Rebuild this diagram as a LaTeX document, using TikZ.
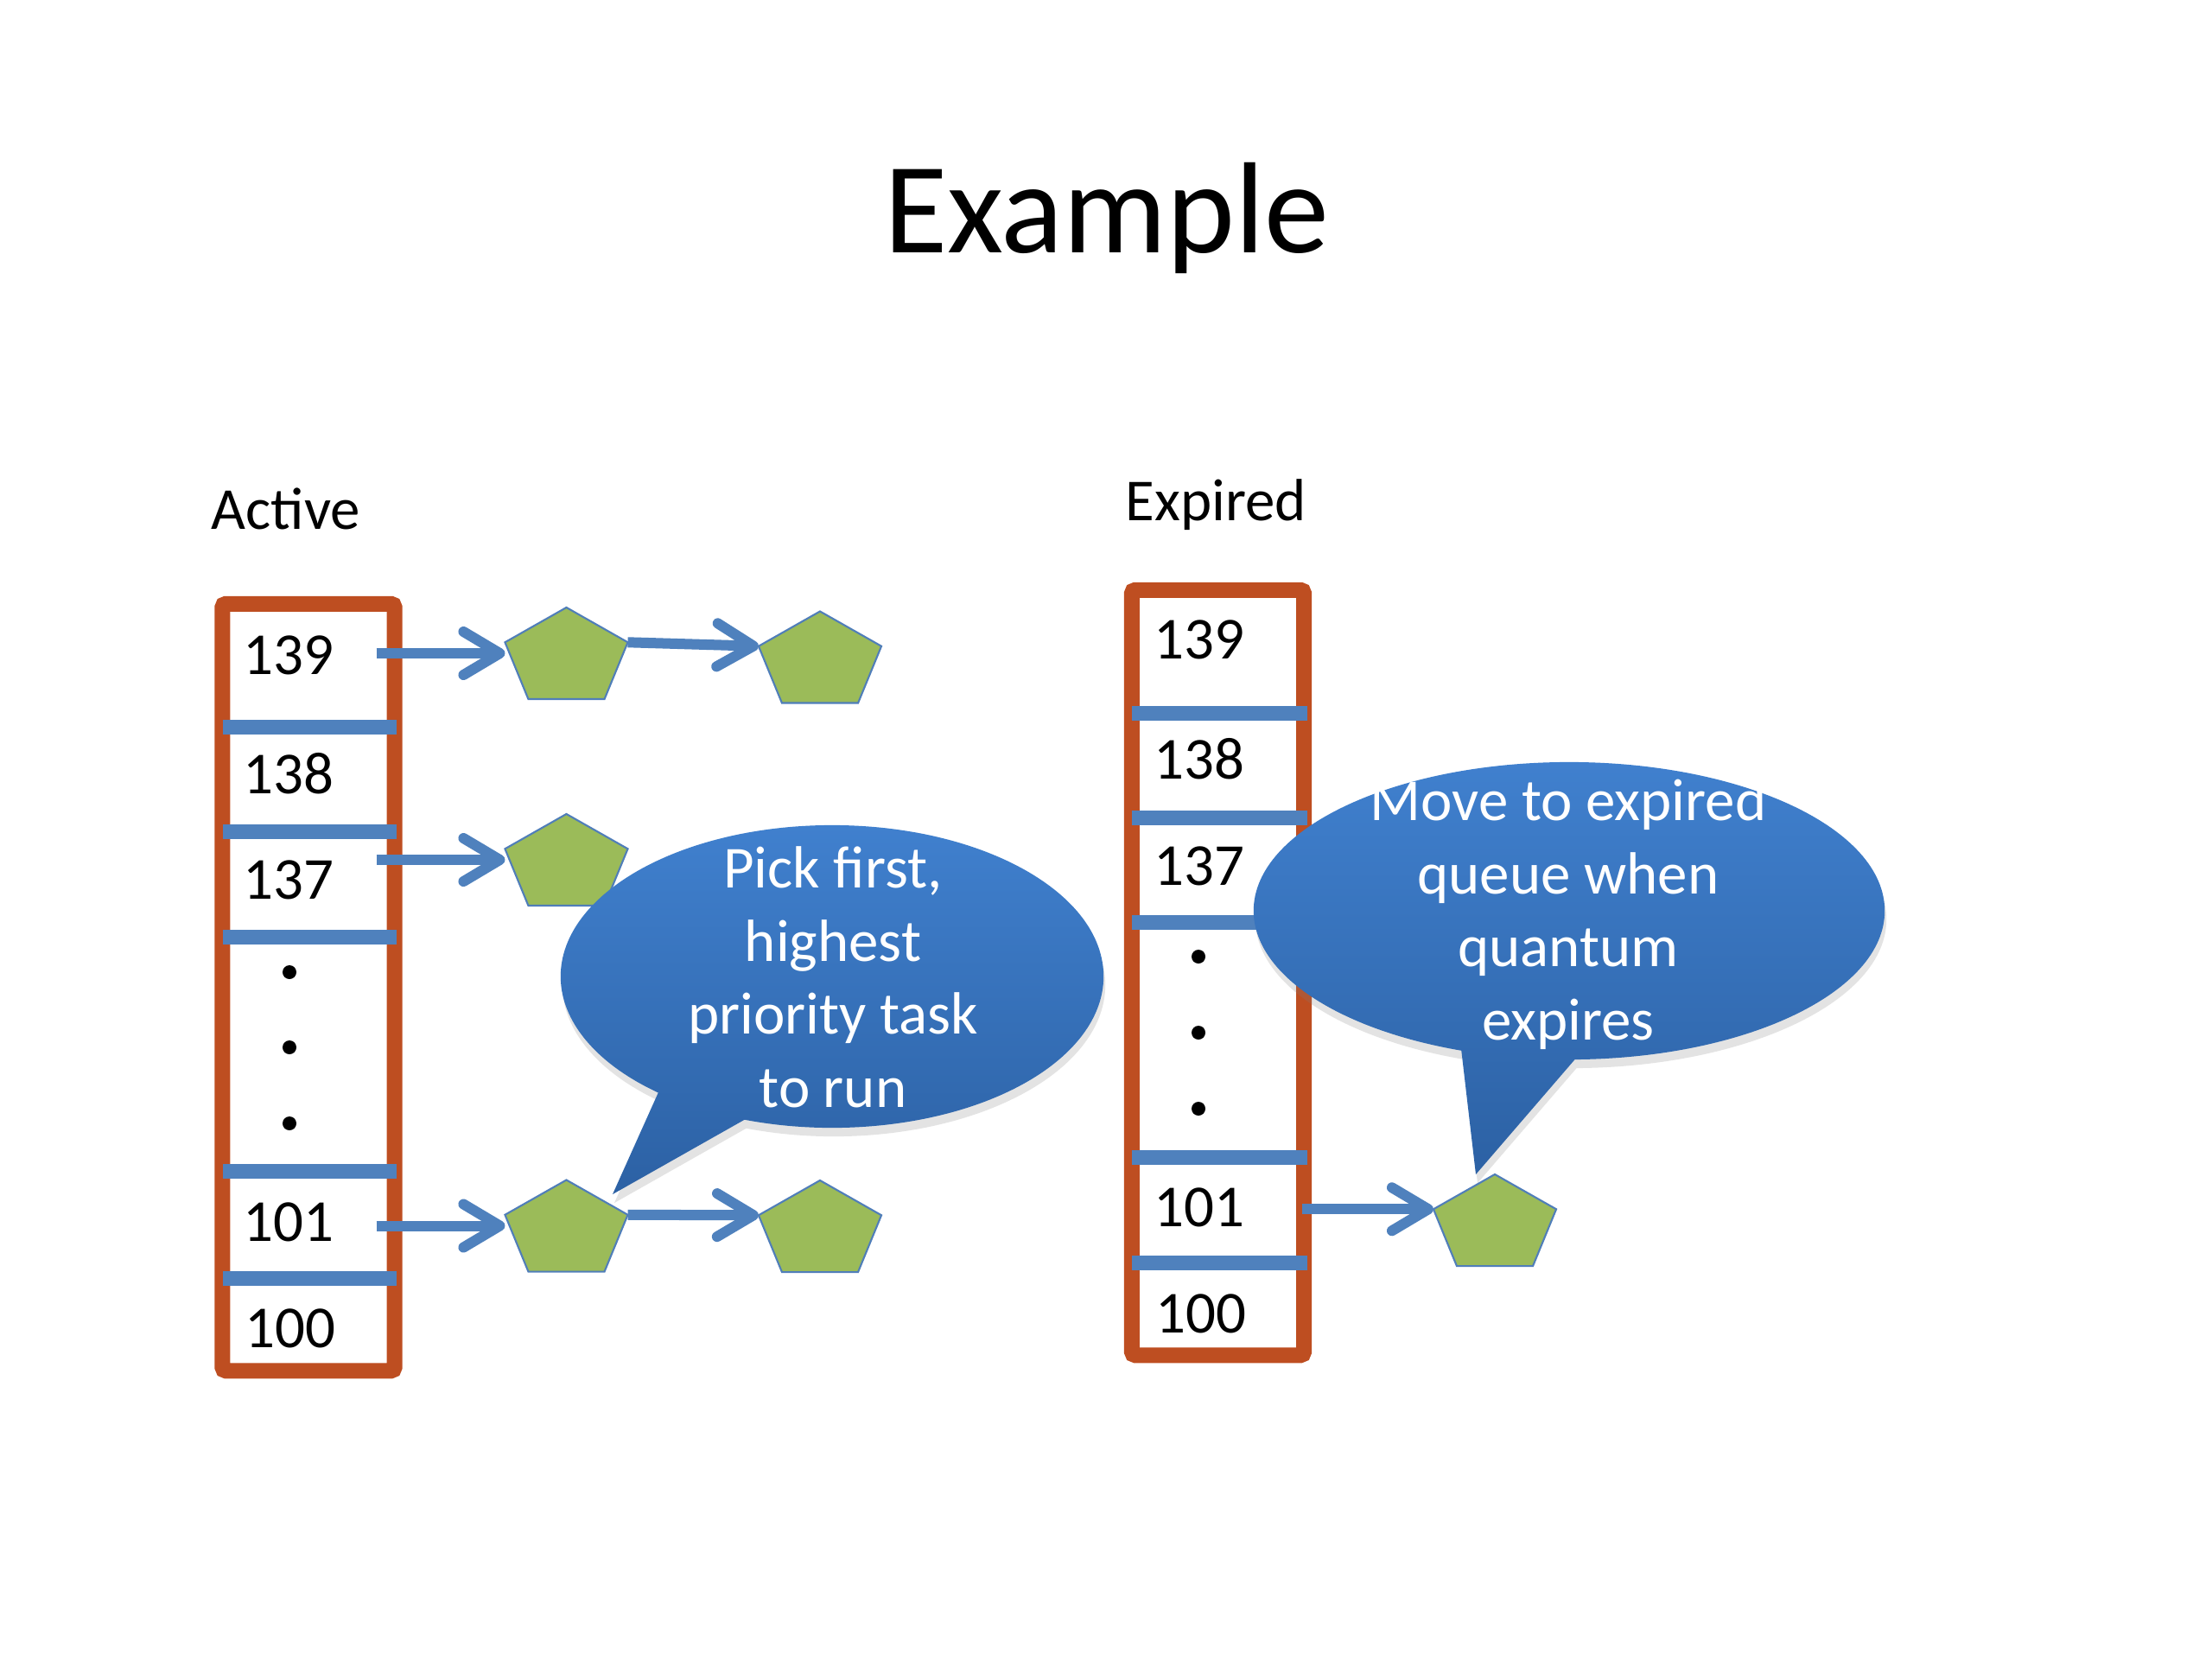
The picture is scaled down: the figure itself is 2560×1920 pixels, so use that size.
\documentclass[tikz,border=0pt]{standalone}
\usepackage{fontspec}
\setmainfont{Carlito}
\usetikzlibrary{calc,shapes.callouts,shadows,arrows.meta}
\definecolor{boxorange}{RGB}{190,78,33}
\definecolor{barblue}{RGB}{79,129,189}
\definecolor{taskgreen}{RGB}{155,187,89}
\definecolor{taskline}{RGB}{80,126,185}
\definecolor{calltop}{RGB}{64,128,206}
\definecolor{callbot}{RGB}{44,97,164}
\tikzset{
 qbox/.style={draw=boxorange, line width=0.18cm, rounded corners=0.04cm, minimum width=1.99cm, inner sep=0, fill=white},
 sepbar/.style={draw=barblue, line width=0.17cm},
 numA/.style={anchor=base west, inner sep=0, text width=1.53cm, align=left, font=\fontsize{19.6pt}{23pt}\selectfont},
 numE/.style={numA, text width=1.70cm},
 dotmark/.style={circle, fill=black, inner sep=0, minimum size=0.16cm},
 taskbox/.style={rectangle, inner sep=0, outer sep=0, minimum width=1.42cm, minimum height=1.06cm},
 taskfill/.style={fill=taskgreen, draw=taskline, line width=0.6pt, line join=miter},
 conn/.style={draw=barblue, line width=0.12cm, -{Straight Barb[round, length=0.42cm, width=0.5cm]}},
 bubble/.style={ellipse callout, inner sep=0, top color=calltop, bottom color=callbot, draw=none, callout pointer arc=21, drop shadow={shadow xshift=0.02cm, shadow yshift=-0.1cm, opacity=0.22}},
 bubbletext/.style={anchor=base, align=center, text=white, inner sep=0, font=\fontsize{19.6pt}{24.0pt}\selectfont},
 heading/.style={anchor=base west, inner sep=0, font=\fontsize{19.6pt}{23pt}\selectfont}
}
\newcommand\tasknode[3]{%
  \node[taskbox] (#1) at (#2,#3) {};
  \filldraw[taskfill] (#1.north) -- ($(#1.north east)!0.38!(#1.south east)$) -- ($(#1.south east)!0.19!(#1.south west)$) -- ($(#1.south west)!0.19!(#1.south east)$) -- ($(#1.north west)!0.38!(#1.south west)$) -- cycle;
}
\begin{document}
\begin{tikzpicture}[x=0.01cm, y=-0.01cm]
\useasboundingbox[fill=white] (0,0) rectangle (2560,1920);
\node[anchor=base, inner sep=0, font=\fontsize{42.7pt}{50pt}\selectfont] (title) at (1281,292) {Example};
\node[heading] (lblA) at (244,612) {Active};
\node[heading] (lblE) at (1302,602) {Expired};
% queues
\node[qbox, minimum height=8.87cm] (qA) at (357,1142.5) {};
\node[qbox, minimum height=8.85cm] (qE) at (1409.5,1125.5) {};
% separators
\foreach \yy in {841,962,1084,1355,1479} \draw[sepbar] (258,\yy) -- (459,\yy);
\foreach \yy in {825,946,1067,1339,1461} \draw[sepbar] (1310,\yy) -- (1513,\yy);
% numbers
\node[numA] (a139) at (281,780) {139};
\node[numA] (a138) at (281,918) {138};
\node[numA] (a137) at (281,1040) {137};
\node[numA] (a101) at (281,1436) {101};
\node[numA] (a100) at (283,1559) {100};
\node[dotmark] (ad1) at (335,1125) {};
\node[dotmark] (ad2) at (335,1212) {};
\node[dotmark] (ad3) at (335,1300) {};
\node[numE] (e139) at (1335,762) {139};
\node[numE] (e138) at (1335,901) {138};
\node[numE] (e137) at (1335,1024) {137};
\node[numE] (e101) at (1335,1419) {101};
\node[numE] (e100) at (1337,1542) {100};
\node[dotmark] (ed1) at (1387,1107) {};
\node[dotmark] (ed2) at (1387,1195) {};
\node[dotmark] (ed3) at (1387,1283) {};
% tasks
\tasknode{A1}{655.5}{756}
\tasknode{A2}{949}{760.5}
\tasknode{A3}{655.5}{995}
\tasknode{A4}{655.5}{1418.5}
\tasknode{A5}{949}{1419}
\tasknode{E1}{1730}{1412}
% connectors
\draw[conn] (a139.east |- A1.west) -- (A1.west);
\draw[conn] ($(A1.north east)!0.38!(A1.south east)$) -- ($(A2.north west)!0.38!(A2.south west)$);
\draw[conn] (a137.east |- A3.west) -- (A3.west);
\draw[conn] (a101.east |- A4.west) -- (A4.west);
\draw[conn] ($(A4.north east)!0.38!(A4.south east)$) -- ($(A5.north west)!0.38!(A5.south west)$);
\coordinate (E1in) at ($(E1.north west)!0.38!(E1.south west)$);
\draw[conn] (e101.east |- E1in) -- (E1in);
% callouts
\coordinate (c1tip) at (709,1382);
\node[bubble, minimum width=6.28cm, minimum height=3.50cm, callout absolute pointer={(c1tip)}] (c1) at (963,1130) {};
\node[bubbletext] (c1t) at (964,1281) {Pick first,\\highest\\priority task\\to run};
\coordinate (c2tip) at (1708,1359);
\node[bubble, minimum width=7.30cm, minimum height=3.44cm, callout absolute pointer={(c2tip)}] (c2) at (1816,1054) {};
\node[bubbletext] (c2t) at (1815,1203) {Move to expired\\queue when\\quantum\\expires};
\end{tikzpicture}
\end{document}
